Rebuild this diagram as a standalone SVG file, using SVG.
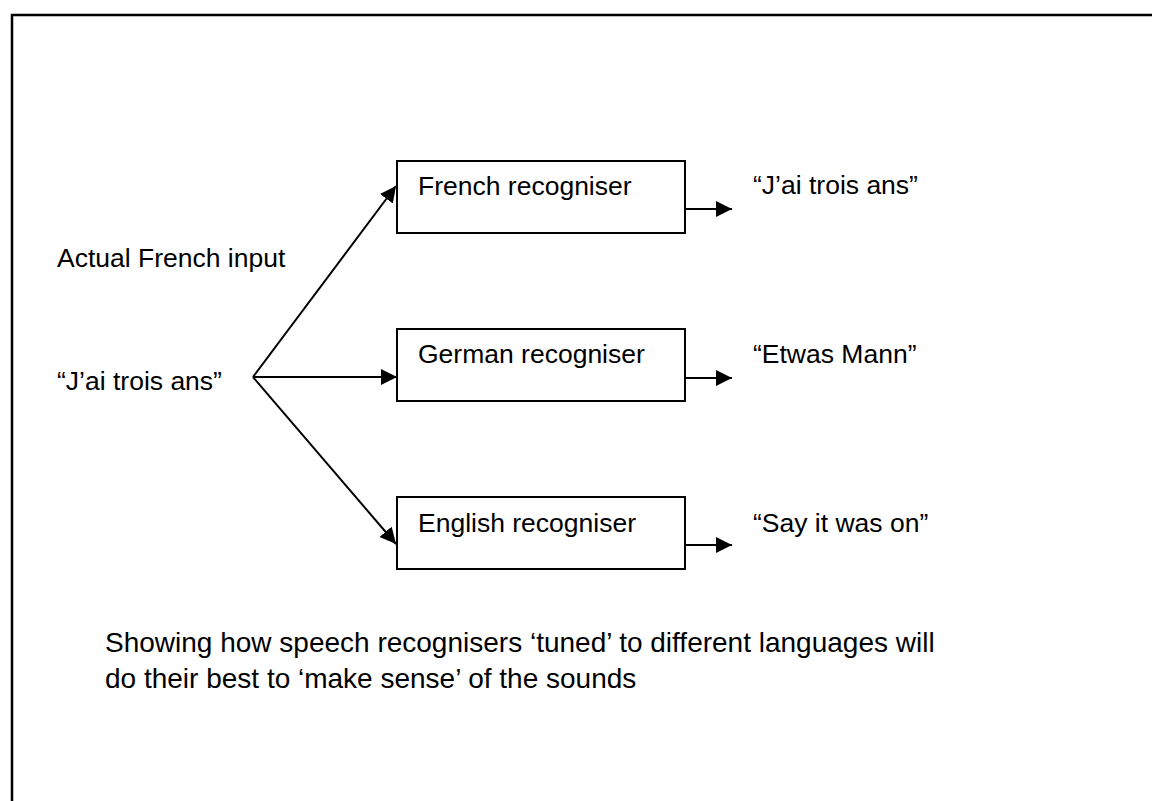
<svg xmlns="http://www.w3.org/2000/svg" width="1152" height="801" viewBox="0 0 1152 801">
<style>
.t{font-family:"Liberation Sans",Arial,sans-serif;font-size:26.5px;fill:#000}
.cap{font-family:"Liberation Sans",Arial,sans-serif;font-size:28px;fill:#000}
.box{fill:#fff;stroke:#000;stroke-width:2}
.c{stroke:#000;stroke-width:2;fill:none}
</style>
<defs>
<marker id="ah" markerUnits="userSpaceOnUse" markerWidth="18" markerHeight="18" refX="16" refY="8" orient="auto">
<path d="M0,0 L16,8 L0,16 z" fill="#000"/>
</marker>
</defs>
<rect width="1152" height="801" fill="#fff"/>
<path d="M12,801 V15 H1152" fill="none" stroke="#000" stroke-width="2.5"/>
<g id="input">
<text class="t" x="57" y="267">Actual French input</text>
<text class="t" x="57" y="390">“J’ai trois ans”</text>
</g>
<g id="french">
<rect class="box" x="397" y="161" width="288" height="72"/>
<text class="t" x="418" y="195">French recogniser</text>
</g>
<g id="german">
<rect class="box" x="397" y="329" width="288" height="72"/>
<text class="t" x="418" y="363">German recogniser</text>
</g>
<g id="english">
<rect class="box" x="397" y="497" width="288" height="72"/>
<text class="t" x="418" y="532">English recogniser</text>
</g>
<g id="outputs">
<text class="t" x="753" y="194">“J’ai trois ans”</text>
<text class="t" x="753" y="363">“Etwas Mann”</text>
<text class="t" x="753" y="532">“Say it was on”</text>
</g>
<g id="connectors">
<line class="c" x1="253" y1="377" x2="396" y2="186" marker-end="url(#ah)"/>
<line class="c" x1="253" y1="377" x2="397" y2="377" marker-end="url(#ah)"/>
<line class="c" x1="253" y1="377" x2="396" y2="544" marker-end="url(#ah)"/>
<line class="c" x1="685" y1="209" x2="732" y2="209" marker-end="url(#ah)"/>
<line class="c" x1="685" y1="378" x2="732" y2="378" marker-end="url(#ah)"/>
<line class="c" x1="685" y1="545" x2="732" y2="545" marker-end="url(#ah)"/>
</g>
<g id="caption">
<text class="cap" x="105" y="652">Showing how speech recognisers ‘tuned’ to different languages will</text>
<text class="cap" x="105" y="688">do their best to ‘make sense’ of the sounds</text>
</g>
</svg>
